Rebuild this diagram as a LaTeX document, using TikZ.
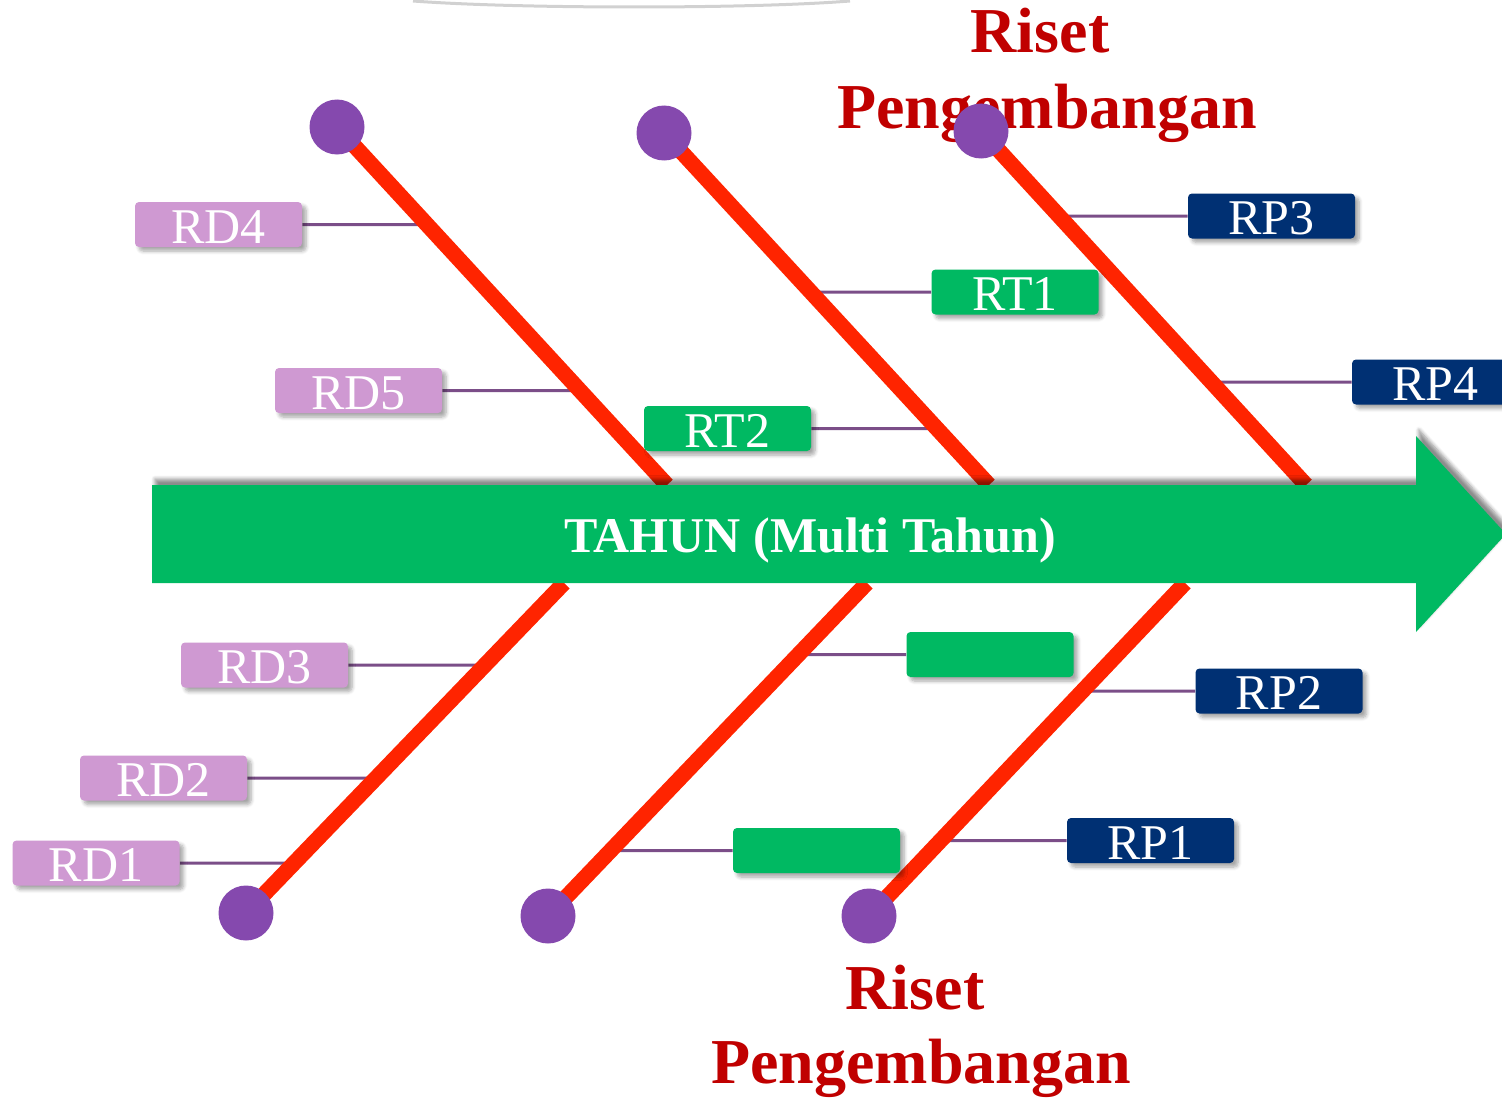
\documentclass[tikz,border=0pt]{standalone}
\usepackage{fontspec}
\setmainfont{Liberation Serif}
\usetikzlibrary{shadows.blur}
\definecolor{fbgreen}{RGB}{0,185,98}
\definecolor{rdpink}{RGB}{207,153,210}
\definecolor{rpnavy}{RGB}{0,48,115}
\definecolor{bonered}{RGB}{255,36,0}
\definecolor{knobpurple}{RGB}{133,73,174}
\definecolor{connpurple}{RGB}{123,78,136}
\definecolor{titlered}{RGB}{192,0,0}
\pgfdeclarelayer{bg}
\pgfdeclarelayer{mid}
\pgfsetlayers{bg,mid,main}
\tikzset{
  lbl/.style={rounded corners=2pt, minimum width=83.5pt, minimum height=22.5pt,
    inner sep=0pt, text=white, font=\fontsize{25}{25}\selectfont,
    text height=18.5pt, text depth=0pt,
    blur shadow={shadow xshift=2pt, shadow yshift=-2pt, shadow opacity=35, shadow blur steps=6}},
  rd/.style={lbl, fill=rdpink},
  rt/.style={lbl, fill=fbgreen},
  rp/.style={lbl, fill=rpnavy},
  bone/.style={draw=bonered, line width=7.8pt},
  conn/.style={draw=connpurple, line width=1.5pt},
  knob/.style={circle, fill=knobpurple, minimum size=27.5pt, inner sep=0pt},
  titletext/.style={text=titlered, font=\bfseries\fontsize{32}{32}\selectfont, anchor=base, inner sep=0pt},
}
\begin{document}
\begin{tikzpicture}[x=0.5pt,y=-0.5pt]
\clip (0,0) rectangle (1502,1097);
% bone coordinates
\coordinate (c1) at (337,127); \coordinate (e1) at (667,485);
\coordinate (c2) at (664,133); \coordinate (e2) at (989,485);
\coordinate (c3) at (981,131); \coordinate (e3) at (1306,485);
\coordinate (c4) at (246,913); \coordinate (e4) at (564,583);
\coordinate (c5) at (548,916); \coordinate (e5) at (867,583);
\coordinate (c6) at (869,916); \coordinate (e6) at (1185,583);
% main arrow
\fill[fbgreen, blur shadow={shadow xshift=1.5pt, shadow yshift=3pt, shadow opacity=45, shadow blur steps=6}]
  (152,485) -- (1416,485) -- (1416,436) -- (1506,534) -- (1416,632) -- (1416,583) -- (152,583) -- cycle;
\node[text=white, font=\bfseries\fontsize{25}{25}\selectfont] (arrowtext) at (810,540) {TAHUN (Multi Tahun)};
% boxes
\node[rd] (RD4) at (218.5,224.5) {RD4};
\node[rd] (RD5) at (358.5,390.5) {RD5};
\node[rt] (RT2) at (727.5,428.5) {RT2};
\node[rt] (RT1) at (1015,292) {RT1};
\node[rp] (RP3) at (1271.5,216) {RP3};
\node[rp] (RP4) at (1435.5,382) {RP4};
\node[rd] (RD3) at (264.5,665) {RD3};
\node[rd] (RD2) at (163.5,778) {RD2};
\node[rd] (RD1) at (96,863) {RD1};
\node[rt] (G1) at (990,654.5) {};
\node[rt] (G2) at (816.5,850.5) {};
\node[rp] (RP2) at (1279,691) {RP2};
\node[rp] (RP1) at (1150.5,840.5) {RP1};
\begin{pgfonlayer}{bg}
% faint arc at top
\draw[black!18, line width=1.5pt] (413,1) .. controls (520,9) and (750,9) .. (850,1);
% titles
\node[titletext] (tt1) at (1040,53) {Riset};
\node[titletext] (tt2) at (1047,128) {Pengembangan};
\node[titletext] (tb1) at (915,1009) {Riset};
\node[titletext] (tb2) at (921,1083) {Pengembangan};
% connectors
\draw[conn] (RD4.east) -- (intersection of c1--e1 and RD4.east--RD4.west);
\draw[conn] (RD5.east) -- (intersection of c1--e1 and RD5.east--RD5.west);
\draw[conn] (RT2.east) -- (intersection of c2--e2 and RT2.east--RT2.west);
\draw[conn] (RT1.west) -- (intersection of c2--e2 and RT1.east--RT1.west);
\draw[conn] (RP3.west) -- (intersection of c3--e3 and RP3.east--RP3.west);
\draw[conn] (RP4.west) -- (intersection of c3--e3 and RP4.east--RP4.west);
\draw[conn] (RD3.east) -- (intersection of c4--e4 and RD3.east--RD3.west);
\draw[conn] (RD2.east) -- (intersection of c4--e4 and RD2.east--RD2.west);
\draw[conn] (RD1.east) -- (intersection of c4--e4 and RD1.east--RD1.west);
\draw[conn] (G1.west) -- (intersection of c5--e5 and G1.east--G1.west);
\draw[conn] (G2.west) -- (intersection of c5--e5 and G2.east--G2.west);
\draw[conn] (RP2.west) -- (intersection of c6--e6 and RP2.east--RP2.west);
\draw[conn] (RP1.west) -- (intersection of c6--e6 and RP1.east--RP1.west);
\end{pgfonlayer}
\begin{pgfonlayer}{mid}
% bones and knobs
\foreach \i in {1,...,6} { \draw[bone] (c\i) -- (e\i); }
\foreach \i in {1,...,6} { \node[knob] (k\i) at (c\i) {}; }
\end{pgfonlayer}
\end{tikzpicture}
\end{document}
